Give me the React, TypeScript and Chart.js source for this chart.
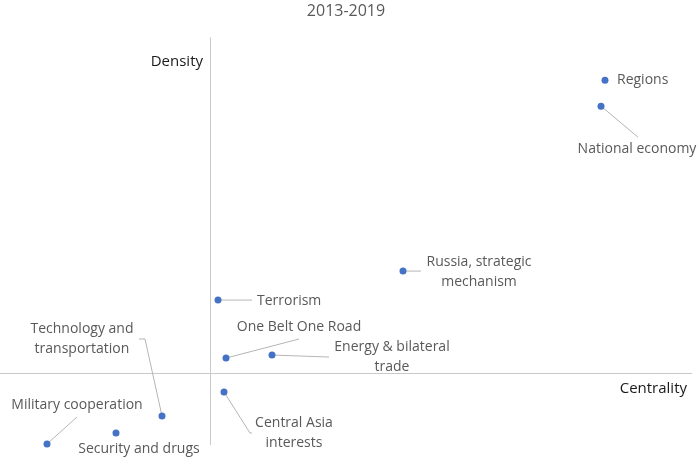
import React, { useEffect, useRef } from 'react';
import { Chart, registerables } from 'chart.js';

Chart.register(...registerables);

// ---- data ----
const title = '2013-2019';
const xAxisName = 'Centrality';
const yAxisName = 'Density';
const topics = [
  ['Regions'],
  ['National economy'],
  ['Russia, strategic', 'mechanism'],
  ['Terrorism'],
  ['One Belt One Road'],
  ['Energy & bilateral', 'trade'],
  ['Central Asia', 'interests'],
  ['Technology and', 'transportation'],
  ['Security and drugs'],
  ['Military cooperation'],
];
const centrality = [3.95, 3.91, 1.93, 0.08, 0.16, 0.62, 0.14, -0.48, -0.94, -1.63];
const density = [2.93, 2.67, 1.02, 0.73, 0.15, 0.18, -0.19, -0.43, -0.6, -0.71];

// ---- label layout (pixel offsets from each point) ----
const labelLayout = [
  { align: 'left', dx: 12, dy: 0, leader: [] },
  { align: 'center', dx: 36, dy: 43, leader: [[0, 0], [37, 31]] },
  { align: 'center', dx: 76, dy: -9, leader: [[0, 0], [18, 0]] },
  { align: 'left', dx: 39, dy: 1, leader: [[0, 0], [34, 0]] },
  { align: 'center', dx: 73, dy: -31, leader: [[0, 0], [73, -19]] },
  { align: 'center', dx: 120, dy: -8, leader: [[0, 0], [57, 2]] },
  { align: 'center', dx: 70, dy: 31, leader: [[0, 0], [26, 41], [28, 41]] },
  { align: 'center', dx: -80, dy: -87, leader: [[0, 0], [-17, -77], [-23, -77]] },
  { align: 'center', dx: 23, dy: 16, leader: [] },
  { align: 'center', dx: 30, dy: -39, leader: [[0, 0], [30, -27]] },
];

const FONT = '"Open Sans", sans-serif';
const LINE_H = 20;

const annotPlugin = {
  id: 'annot',
  beforeDatasetsDraw(chart: any) {
    const { ctx, chartArea, scales } = chart;
    const ax = Math.round(scales.x.getPixelForValue(0)) + 0.5;
    const ay = Math.round(scales.y.getPixelForValue(0)) + 0.5;
    ctx.save();
    ctx.strokeStyle = '#c9c9c9';
    ctx.lineWidth = 1;
    ctx.beginPath();
    ctx.moveTo(chartArea.left, ay);
    ctx.lineTo(chartArea.right, ay);
    ctx.moveTo(ax, chartArea.top);
    ctx.lineTo(ax, chartArea.bottom);
    ctx.stroke();

    // leader lines
    const meta = chart.getDatasetMeta(0);
    ctx.strokeStyle = '#b5b5b5';
    meta.data.forEach((pt: any, i: number) => {
      const l = labelLayout[i];
      if (!l || l.leader.length < 2) return;
      ctx.beginPath();
      l.leader.forEach(([dx, dy]: number[], k: number) => {
        if (k === 0) ctx.moveTo(pt.x + dx, pt.y + dy);
        else ctx.lineTo(pt.x + dx, pt.y + dy);
      });
      ctx.stroke();
    });
    ctx.restore();
  },
  afterDatasetsDraw(chart: any) {
    const { ctx, chartArea, scales } = chart;
    const ax = scales.x.getPixelForValue(0);
    const ay = scales.y.getPixelForValue(0);
    const meta = chart.getDatasetMeta(0);
    ctx.save();
    ctx.font = `14px ${FONT}`;
    ctx.fillStyle = '#595959';
    ctx.textBaseline = 'middle';
    meta.data.forEach((pt: any, i: number) => {
      const l = labelLayout[i];
      ctx.textAlign = l.align;
      topics[i].forEach((line, k) => {
        ctx.fillText(line, pt.x + l.dx, pt.y + l.dy + k * LINE_H);
      });
    });
    ctx.font = `15px ${FONT}`;
    ctx.fillStyle = '#1a1a1a';
    ctx.textAlign = 'right';
    ctx.fillText(yAxisName, ax - 7, chartArea.top + 25);
    ctx.fillText(xAxisName, chartArea.right - 5, ay + 16);
    ctx.restore();
  },
};

export default function App() {
  const ref = useRef<HTMLCanvasElement>(null);
  useEffect(() => {
    if (!ref.current) return;
    const chart = new Chart(ref.current, {
      type: 'scatter',
      data: {
        datasets: [
          {
            data: centrality.map((c, i) => ({ x: c, y: density[i] })),
            backgroundColor: '#4472C4',
            borderColor: '#4472C4',
            pointRadius: 3.5,
            borderWidth: 0,
            clip: false,
          },
        ],
      },
      options: {
        animation: false,
        responsive: true,
        maintainAspectRatio: false,
        layout: { autoPadding: false, padding: { left: 0, right: 8, top: 0, bottom: 14 } },
        scales: {
          x: { display: false, min: -2.1, max: 4.82 },
          y: { display: false, min: -0.72, max: 3.36 },
        },
        plugins: {
          legend: { display: false },
          tooltip: { enabled: false },
          title: {
            display: true,
            text: title,
            color: '#595959',
            font: { family: FONT, size: 16, weight: 'normal' },
            padding: { top: 2, bottom: 16 },
          },
        },
      },
      plugins: [annotPlugin],
    });
    return () => chart.destroy();
  }, []);
  return (
    <div style={{ position: 'fixed', left: 0, top: 0, width: 700, height: 459, background: '#fff' }}>
      <canvas ref={ref} />
    </div>
  );
}
